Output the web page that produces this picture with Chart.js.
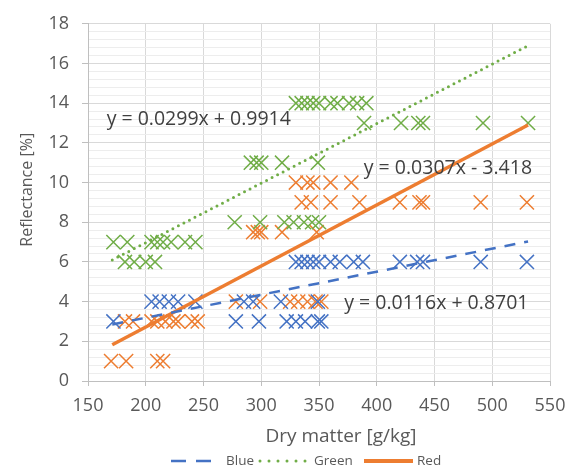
<!DOCTYPE html>
<html lang="en">
<head>
<meta charset="UTF-8" />
<title>Reflectance vs dry matter</title>
<script src="https://cdn.jsdelivr.net/npm/chart.js"></script>
<style>
  body { margin: 0; background: #ffffff; }
</style>
</head>
<body>
<canvas id="myChart" width="578" height="468"></canvas>
<script>
// measured points (dry matter g/kg, reflectance %)
const blueX = [172, 278, 298, 322, 330, 338, 349, 352,
  205, 212, 220, 228, 243, 285, 293, 317, 349,
  330, 335, 340, 345, 350, 360, 368, 380, 388, 420, 435, 440, 490, 530];
const blueY = [3, 3, 3, 3, 3, 3, 3, 3,
  4, 4, 4, 4, 4, 4, 4, 4, 4,
  6, 6, 6, 6, 6, 6, 6, 6, 6, 6, 6, 6, 6, 6];

const greenX = [182, 190, 200, 208,
  172, 184, 205, 210, 215, 222, 234, 243,
  277, 299, 320, 328, 337, 344, 350,
  291, 296, 300, 318, 349,
  389, 421, 436, 440, 492, 531,
  330, 335, 340, 345, 350, 360, 366, 376, 383, 391];
const greenY = [6, 6, 6, 6,
  7, 7, 7, 7, 7, 7, 7, 7,
  8, 8, 8, 8, 8, 8, 8,
  11, 11, 11, 11, 11,
  13, 13, 13, 13, 13, 13,
  14, 14, 14, 14, 14, 14, 14, 14, 14, 14];

const redX = [170, 183, 210, 215,
  182, 189, 205, 210, 217, 224, 228, 240, 245,
  278, 299, 325, 332, 340, 347, 352,
  293, 297, 300, 318, 348,
  335, 343, 360, 385, 420, 437, 440, 490, 530,
  330, 340, 345, 360, 378];
const redY = [1, 1, 1, 1,
  3, 3, 3, 3, 3, 3, 3, 3, 3,
  4, 4, 4, 4, 4, 4, 4,
  7.5, 7.5, 7.5, 7.5, 7.5,
  9, 9, 9, 9, 9, 9, 9, 9, 9,
  10, 10, 10, 10, 10];

// trendline end points
const trendX = [171, 531];
const blueTrendY = [2.85, 7.03];
const greenTrendY = [6.1, 16.9];
const redTrendY = [1.83, 12.9];

const seriesNames = ["Blue", "Green", "Red"];
const equations = ["y = 0.0116x + 0.8701", "y = 0.0299x + 0.9914", "y = 0.0307x - 3.418"];

const xTicks = [150, 200, 250, 300, 350, 400, 450, 500, 550];
const yTicks = [0, 2, 4, 6, 8, 10, 12, 14, 16, 18];

const xTitle = "Dry matter [g/kg]";
const yTitle = "Reflectance [%]";

const BLUE = "#4472C4";
const GREEN = "#70AD47";
const ORANGE = "#ED7D31";
const GREY = "#595959";
const FONT = "'Open Sans', sans-serif";

function pts(xs, ys) {
  return xs.map((x, i) => ({ x: x, y: ys[i] }));
}

function isMajor(v) {
  return Math.abs(v / 2 - Math.round(v / 2)) < 1e-6;
}

// equation labels, axis titles and the legend (Excel puts these off-centre)
const extrasPlugin = {
  id: "extras",
  afterDatasetsDraw(chart) {
    const { ctx, scales, chartArea } = chart;
    ctx.save();

    // trendline equations, anchored in data units
    const spots = [
      { x: 451.6, y: 3.9 },
      { x: 245.9, y: 13.2 },
      { x: 461.6, y: 10.7 },
    ];
    ctx.font = "19.5px " + FONT;
    ctx.fillStyle = "#404040";
    ctx.textAlign = "center";
    ctx.textBaseline = "middle";
    equations.forEach((t, i) => {
      ctx.fillText(t, scales.x.getPixelForValue(spots[i].x), scales.y.getPixelForValue(spots[i].y));
    });

    // axis titles
    ctx.fillStyle = GREY;
    ctx.font = "19px " + FONT;
    ctx.fillText(xTitle, chartArea.left + 253, chartArea.bottom + 56);
    ctx.translate(27, chartArea.top + 166);
    ctx.rotate(-Math.PI / 2);
    ctx.font = "16px " + FONT;
    ctx.fillText(yTitle, 0, 0);
    ctx.restore();

    // legend: only the three trendlines
    const ly = chartArea.bottom + 80;
    const items = [
      { x0: 171, x1: 212, tx: 226, color: BLUE, dash: [15, 10], w: 2.5, cap: "butt" },
      { x0: 260, x1: 306, tx: 314, color: GREEN, dash: [0, 9], w: 3, cap: "round" },
      { x0: 364, x1: 413, tx: 417, color: ORANGE, dash: [], w: 4, cap: "butt" },
    ];
    ctx.save();
    ctx.font = "13.5px " + FONT;
    ctx.textAlign = "left";
    ctx.textBaseline = "middle";
    items.forEach((it, i) => {
      ctx.strokeStyle = it.color;
      ctx.lineWidth = it.w;
      ctx.lineCap = it.cap;
      ctx.setLineDash(it.dash);
      ctx.beginPath();
      ctx.moveTo(it.x0, ly);
      ctx.lineTo(it.x1, ly);
      ctx.stroke();
      ctx.fillStyle = GREY;
      ctx.fillText(seriesNames[i], it.tx, ly);
    });
    ctx.restore();
  },
};

const markerBase = {
  showLine: false,
  pointStyle: "crossRot",
  pointRadius: 10,
  pointHoverRadius: 10,
  pointBorderWidth: 1.5,
  order: 2,
};

const ctx = document.getElementById("myChart").getContext("2d");
const myChart = new Chart(ctx, {
  type: "scatter",
  data: {
    datasets: [
      Object.assign({ label: "Blue pts", data: pts(blueX, blueY), borderColor: BLUE, backgroundColor: BLUE }, markerBase),
      Object.assign({ label: "Green pts", data: pts(greenX, greenY), borderColor: GREEN, backgroundColor: GREEN }, markerBase),
      Object.assign({ label: "Red pts", data: pts(redX, redY), borderColor: ORANGE, backgroundColor: ORANGE }, markerBase),
      {
        label: seriesNames[0], data: pts(trendX, blueTrendY), showLine: true,
        borderColor: BLUE, borderWidth: 2.5, borderDash: [11, 9], pointRadius: 0, order: 1,
      },
      {
        label: seriesNames[1], data: pts(trendX, greenTrendY), showLine: true,
        borderColor: GREEN, borderWidth: 3, borderDash: [0, 6.2], borderCapStyle: "round", pointRadius: 0, order: 1,
      },
      {
        label: seriesNames[2], data: pts(trendX, redTrendY), showLine: true,
        borderColor: ORANGE, borderWidth: 3.5, pointRadius: 0, order: 1,
      },
    ],
  },
  options: {
    responsive: false,
    animation: false,
    layout: { padding: { top: 19, right: 28, left: 0, bottom: 0 } },
    plugins: {
      tooltip: { enabled: false },
      legend: { display: false },
    },
    scales: {
      x: {
        type: "linear",
        min: xTicks[0],
        max: xTicks[xTicks.length - 1],
        afterBuildTicks(scale) {
          scale.ticks = xTicks.map((v) => ({ value: v }));
        },
        afterFit(scale) {
          scale.height = 87;
        },
        ticks: { color: GREY, font: { family: FONT, size: 18 }, padding: 9 },
        grid: { color: "#D9D9D9", tickColor: "#BFBFBF", tickLength: 5 },
        border: { color: "#BFBFBF" },
      },
      y: {
        min: 0,
        max: 18,
        afterBuildTicks(scale) {
          const t = [];
          for (let k = 0; k <= 45; k++) t.push({ value: Math.round(k * 4) / 10 });
          scale.ticks = t;
        },
        afterFit(scale) {
          scale.width = 88;
        },
        ticks: {
          color: GREY,
          font: { family: FONT, size: 18 },
          padding: 13,
          autoSkip: false,
          callback: (v) => (isMajor(v) && yTicks.includes(Math.round(v)) ? String(Math.round(v)) : ""),
        },
        grid: {
          color: (c) => (isMajor(c.tick.value) ? "#D9D9D9" : "#EDEDED"),
          tickColor: (c) => (isMajor(c.tick.value) ? "#BFBFBF" : "transparent"),
          tickLength: 6,
        },
        border: { color: "#BFBFBF" },
      },
    },
  },
  plugins: [extrasPlugin],
});
</script>
</body>
</html>
